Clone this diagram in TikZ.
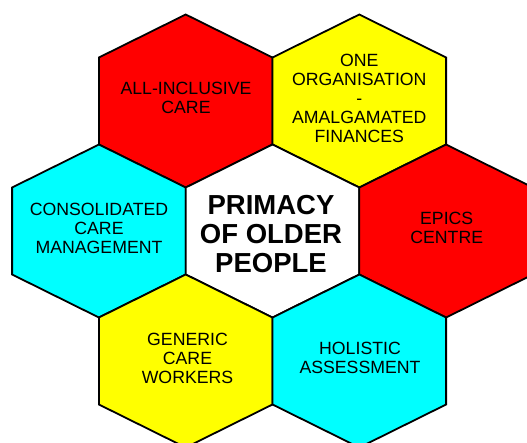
\documentclass[tikz,border=0pt]{standalone}
\usepackage{fontspec}
\setmainfont{Liberation Sans}
\definecolor{hexred}{HTML}{FF0000}
\definecolor{hexyellow}{HTML}{FFFF00}
\definecolor{hexcyan}{HTML}{00FFFF}
\tikzset{
  hexline/.style={draw=black, line width=1.8pt, line join=miter},
  pics/hexcell/.style={code={
    \path[hexline, fill=#1] (0,-86.5) -- (86.8,-43.5) -- (86.8,43.5) -- (0,86.5)
      -- (-86.8,43.5) -- (-86.8,-43.5) -- cycle;
  }},
  lbl/.style={align=center, inner sep=0pt, font=\fontsize{17.7}{19}\selectfont},
  mainlbl/.style={align=center, inner sep=0pt, font=\bfseries\fontsize{27.5}{29.3}\selectfont}
}
\begin{document}
\begin{tikzpicture}[x=1pt, y=-1pt]
\useasboundingbox (0,0) rectangle (527,442);
\fill[white] (0,0) rectangle (527,442);
\clip (0,0) rectangle (527,442);
% row 0
\pic at (185.7,101) {hexcell=hexred};
\pic at (359.3,101) {hexcell=hexyellow};
% row 1
\pic at (98.9,231) {hexcell=hexcyan};
\pic at (272.5,231) {hexcell=white};
\pic at (446.1,231) {hexcell=hexred};
% row 2
\pic at (185.7,361) {hexcell=hexyellow};
\pic at (359.3,361) {hexcell=hexcyan};
% labels
\node[lbl] (allinc) at (186,98) {ALL-INCLUSIVE\\CARE};
\node[lbl] (oneorg) at (359.3,98.3) {ONE\\ORGANISATION\\-\\AMALGAMATED\\FINANCES};
\node[lbl] (consol) at (99,228) {CONSOLIDATED\\CARE\\MANAGEMENT};
\node[mainlbl] (primacy) at (271,234) {PRIMACY\\OF OLDER\\PEOPLE};
\node[lbl] (epics) at (446.7,228) {EPICS\\CENTRE};
\node[lbl] (generic) at (187.5,358) {GENERIC\\CARE\\WORKERS};
\node[lbl] (holistic) at (360,357.5) {HOLISTIC\\ASSESSMENT};
\end{tikzpicture}
\end{document}
